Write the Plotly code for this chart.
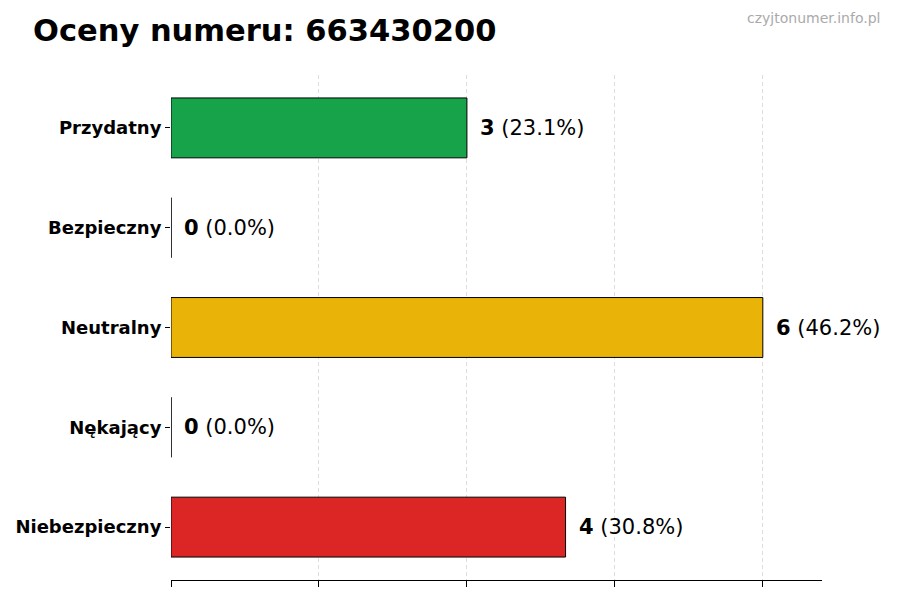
import plotly.graph_objects as go

# ── Dane ──────────────────────────────────────────────────────────────────────
NUMBER     = "663430200"
CATEGORIES = ["Przydatny", "Bezpieczny", "Neutralny", "Nękający", "Niebezpieczny"]
COUNTS     = [3, 0, 6, 0, 4]
COLORS     = ["#16a34a", "#3b82f6", "#eab308", "#f97316", "#dc2626"]
X_TICKS    = [0, 1.5, 3, 4.5, 6]

TOTAL = sum(COUNTS)
FONT  = "DejaVu Sans"

# ── Geometria (body ma 8px marginesu w przeglądarce) ─────────────────────────
W, H = 900, 600
ML, MR, MT, MB = 163, 86, 67, 28
PW, PH = W - ML - MR, H - MT - MB


def px_x(x):
    return (x - ML) / PW


def px_y(y):
    return 1 + (MT - y) / PH


fig = go.Figure()

fig.add_trace(go.Bar(
    x=COUNTS,
    y=CATEGORIES,
    orientation="h",
    width=0.6,
    marker=dict(color=COLORS, line=dict(color="black", width=1)),
    showlegend=False,
    hoverinfo="skip",
))

# zerowe słupki -> cienka kreska w x=0 (plotly ich nie rysuje)
for idx, val in enumerate(COUNTS):
    if val == 0:
        fig.add_shape(type="line", xref="x", yref="y",
                      x0=0, x1=0, y0=idx - 0.3, y1=idx + 0.3,
                      line=dict(color="#222222", width=1))

# etykiety wartości
for cat, val in zip(CATEGORIES, COUNTS):
    pct = 100 * val / TOTAL if TOTAL else 0
    fig.add_annotation(
        x=val, y=cat, xref="x", yref="y",
        text=f"<b>{val}</b> ({pct:.1f}%)",
        showarrow=False, xanchor="left", xshift=11,
        font=dict(family=FONT, size=21, color="black"),
    )

fig.add_annotation(
    x=px_x(23), y=px_y(23), xref="paper", yref="paper", showarrow=False,
    text="<b>Oceny numeru: " + NUMBER + "</b>",
    font=dict(family=FONT, size=30.5, color="black"),
    xanchor="left", yanchor="middle",
)
fig.add_annotation(
    x=px_x(874), y=px_y(10), xref="paper", yref="paper", showarrow=False,
    text="czyjtonumer.info.pl",
    xanchor="right", yanchor="middle",
    font=dict(family=FONT, size=14, color="#aaaaaa"),
)

fig.update_layout(
    width=W, height=H,
    margin=dict(l=ML, r=MR, t=MT, b=MB),
    paper_bgcolor="white", plot_bgcolor="white",
    font=dict(family=FONT, color="black"),
    xaxis=dict(
        range=[0, 6.6], tickvals=X_TICKS, showticklabels=False,
        ticks="outside", ticklen=6, tickcolor="black",
        showline=True, linecolor="black", linewidth=1.2,
        showgrid=True, gridcolor="#dddddd", griddash="4px,3px", gridwidth=1,
        zeroline=False, automargin=False,
    ),
    yaxis=dict(
        categoryorder="array", categoryarray=CATEGORIES,
        autorange=False, range=[4.53, -0.53],
        ticks="outside", ticklen=5, tickcolor="black",
        showline=False, showgrid=False, zeroline=False, automargin=False,
        tickfont=dict(family=FONT, size=18, color="black", weight="bold"),
    ),
)

fig.write_html("out.html")
